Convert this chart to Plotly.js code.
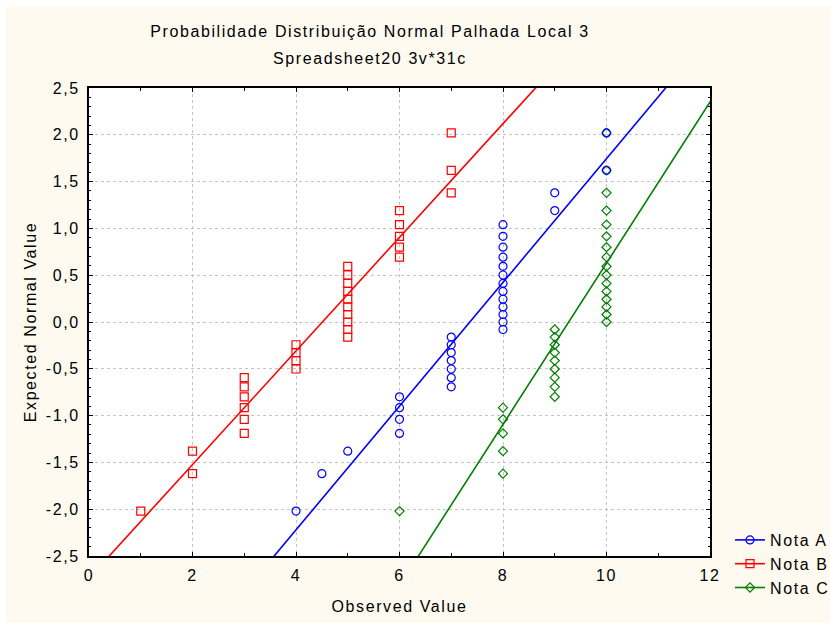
<!DOCTYPE html>
<html>
<head>
<meta charset="utf-8">
<script src="https://cdn.plot.ly/plotly-3.0.1.min.js"></script>
<style>
  html, body { margin: 0; padding: 0; background: #ffffff; }
  #chart { position: absolute; left: 6px; top: 6px; width: 824px; height: 617px; }
  svg text { letter-spacing: 1.6px; }
</style>
</head>
<body>
<div id="chart"></div>
<script>
// ---- Data ----
const seriesNames = ["Nota A", "Nota B", "Nota C"];
const seriesColors = ["#0000ff", "#ff0000", "#008000"];
const seriesSymbols = ["circle-open", "square-open", "diamond-open"];
const seriesSizes = [8, 8, 7];

// Nota A
const obsA = [4, 4.5, 5, 6, 6, 6, 6, 7, 7, 7, 7, 7, 7, 7,
  8, 8, 8, 8, 8, 8, 8, 8, 8, 8, 8, 8, 8, 9, 9, 10, 10];
const expA = [-2.02, -1.62, -1.38, -1.19, -1.04, -0.915, -0.799,
  -0.693, -0.595, -0.502, -0.412, -0.327, -0.243, -0.161,
  -0.080, 0.000, 0.080, 0.161, 0.243, 0.327, 0.412, 0.502, 0.595, 0.693, 0.799, 0.915, 1.04,
  1.19, 1.38, 1.62, 2.02];

// Nota B
const obsB = [1, 2, 2, 3, 3, 3, 3, 3, 3, 4, 4, 4, 4,
  5, 5, 5, 5, 5, 5, 5, 5, 5, 5, 6, 6, 6, 6, 6, 7, 7, 7];
const expB = [-2.02, -1.62, -1.38, -1.19, -1.04, -0.915, -0.799, -0.693, -0.595,
  -0.502, -0.412, -0.327, -0.243,
  -0.161, -0.080, 0.000, 0.080, 0.161, 0.243, 0.327, 0.412, 0.502, 0.595,
  0.693, 0.799, 0.915, 1.04, 1.19, 1.38, 1.62, 2.02];

// Nota C
const obsC = [6, 8, 8, 8, 8, 8, 9, 9, 9, 9, 9, 9, 9, 9, 9,
  10, 10, 10, 10, 10, 10, 10, 10, 10, 10, 10, 10, 10, 10, 10, 10];
const expC = [-2.02, -1.62, -1.38, -1.19, -1.04, -0.915,
  -0.799, -0.693, -0.595, -0.502, -0.412, -0.327, -0.243, -0.161, -0.080,
  0.000, 0.080, 0.161, 0.243, 0.327, 0.412, 0.502, 0.595, 0.693, 0.799, 0.915, 1.04,
  1.19, 1.38, 1.62, 2.02];

// fitted reference lines (x where line crosses 0, slope)
const fitCenter = [7.36, 4.51, 9.27];
const fitSlope = [0.661, 0.607, 0.861];

const xTickVals = [0, 2, 4, 6, 8, 10, 12];
const yTickVals = [-2.5, -2.0, -1.5, -1.0, -0.5, 0.0, 0.5, 1.0, 1.5, 2.0, 2.5];

// ---- Build traces ----
const obs = [obsA, obsB, obsC];
const exp = [expA, expB, expC];
const traces = [];
const drawOrder = [2, 1, 0];
const lineX = [-1, 13];
drawOrder.forEach(i => {
  traces.push({
    x: lineX,
    y: lineX.map(v => (v - fitCenter[i]) * fitSlope[i]),
    type: 'scatter', mode: 'lines+markers',
    name: seriesNames[i], legendrank: i + 1,
    line: { color: seriesColors[i], width: 1.6 },
    marker: { symbol: seriesSymbols[i], size: seriesSizes[i], color: seriesColors[i], line: { width: 1.2, color: seriesColors[i] } },
    cliponaxis: true, hoverinfo: 'skip'
  });
});
drawOrder.forEach(i => {
  traces.push({
    x: obs[i], y: exp[i],
    type: 'scatter', mode: 'markers', showlegend: false,
    name: seriesNames[i],
    marker: { symbol: seriesSymbols[i], size: seriesSizes[i], color: seriesColors[i], line: { width: 1.2, color: seriesColors[i] } }
  });
});

const fontFam = '"Liberation Sans", Arial, sans-serif';
const FS = 16;
const layout = {
  width: 824, height: 617,
  paper_bgcolor: '#fffaf0',
  plot_bgcolor: '#ffffff',
  separators: ', ',
  margin: { l: 83, r: 120, t: 82, b: 67, autoexpand: false },
  font: { family: fontFam, size: FS, color: '#000000' },
  showlegend: true,
  title: {
    text: 'Probabilidade Distribuição Normal Palhada Local 3',
    font: { family: fontFam, size: FS, color: '#000000' },
    xref: 'container', x: 0.4417, xanchor: 'center',
    yref: 'container', y: 1 - 20 / 617, yanchor: 'top'
  },
  annotations: [{
    text: 'Spreadsheet20 3v*31c',
    xref: 'paper', yref: 'paper', showarrow: false,
    x: (364 - 83) / 621, xanchor: 'center',
    y: 1 + (82 - 52) / 468, yanchor: 'middle',
    font: { family: fontFam, size: FS, color: '#000000' }
  }],
  xaxis: {
    range: [0, 12],
    tickvals: xTickVals, ticktext: xTickVals.map(String),
    ticks: 'inside', ticklen: 4, tickcolor: '#000000', tickwidth: 1,
    ticklabelstandoff: 4,
    minor: { dtick: 1, tick0: 0, ticks: 'inside', ticklen: 3, tickcolor: '#000000', showgrid: false },
    showline: true, linecolor: '#000000', linewidth: 2, mirror: 'ticks',
    showgrid: true, gridcolor: '#c4c4c4', griddash: 'dot', gridwidth: 1,
    zeroline: false,
    tickfont: { family: fontFam, size: FS },
    title: { text: 'Observed Value', font: { family: fontFam, size: FS }, standoff: 18 },
    fixedrange: true
  },
  yaxis: {
    range: [-2.5, 2.5],
    tickvals: yTickVals, ticktext: yTickVals.map(v => v.toFixed(1).replace('.', ',')),
    ticks: 'inside', ticklen: 4, tickcolor: '#000000', tickwidth: 1,
    ticklabelstandoff: 4,
    minor: { dtick: 0.1, tick0: 0, ticks: 'inside', ticklen: 2, tickcolor: '#000000', showgrid: false },
    showline: true, linecolor: '#000000', linewidth: 2, mirror: 'ticks',
    showgrid: true, gridcolor: '#c4c4c4', griddash: 'dot', gridwidth: 1,
    zeroline: false,
    tickfont: { family: fontFam, size: FS },
    title: { text: 'Expected Normal Value', font: { family: fontFam, size: FS }, standoff: 5 },
    fixedrange: true
  },
  legend: {
    x: (730 - 89) / 621, xanchor: 'left',
    y: (556 - 523) / 468, yanchor: 'top',
    bgcolor: 'rgba(0,0,0,0)',
    font: { family: fontFam, size: FS, color: '#000000' },
    traceorder: 'normal', tracegroupgap: 0
  }
};

Plotly.newPlot('chart', traces, layout, { displayModeBar: false, staticPlot: true });
</script>
</body>
</html>
